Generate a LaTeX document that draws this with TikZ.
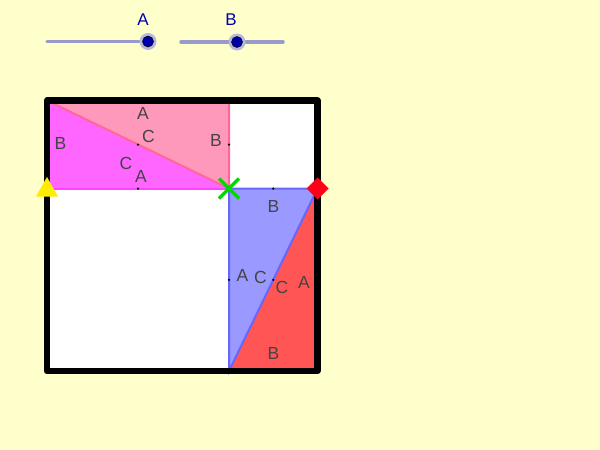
\documentclass[tikz,border=0pt]{standalone}
\usepackage{fontspec}
\setmainfont{Liberation Sans}
\definecolor{bg}{HTML}{FFFFCC}
\definecolor{pinkF}{HTML}{FF99BB}
\definecolor{pinkE}{HTML}{FF6699}
\definecolor{magF}{HTML}{FF66FF}
\definecolor{magE}{HTML}{FF44FF}
\definecolor{bluF}{HTML}{9999FF}
\definecolor{bluE}{HTML}{6666FF}
\definecolor{redF}{HTML}{FF5555}
\definecolor{lbl}{HTML}{444444}
\definecolor{slider}{HTML}{9999CC}
\definecolor{knob}{HTML}{0000AA}
\definecolor{slbl}{HTML}{0000AA}
\tikzset{
  lab/.style={font=\fontsize{17.5}{19}\selectfont, text=lbl, inner sep=0pt},
  slab/.style={font=\fontsize{17}{19}\selectfont, text=slbl, inner sep=0pt},
  dotp/.style={circle, fill=black, inner sep=0pt, minimum size=2.5pt},
}
\begin{document}
\begin{tikzpicture}[x=1pt,y=-1pt]
\fill[bg] (0,0) rectangle (600,450);
\useasboundingbox (0,0) rectangle (600,450);
% sliders
\draw[slider, line width=3.5pt, line cap=round] (47,41.5) -- (148,41.5);
\draw[slider, line width=3.5pt, line cap=round] (181,42) -- (283,42);
\node[slab] (la) at (143,20) {A};
\node[slab] (lb) at (231,20) {B};
\fill[slider!70] (148,41.5) circle (8.5);
\fill[knob, draw=black, line width=0.5pt] (148,41.5) circle (5.5);
\fill[slider!70] (237,42) circle (8.5);
\fill[knob, draw=black, line width=0.5pt] (237,42) circle (5.5);
% square inner
\fill[white] (47,100.5) rectangle (317.5,371);
% coordinates
\coordinate (TL) at (47,100.5);
\coordinate (TM) at (229,100.5);
\coordinate (ML) at (47,188.5);
\coordinate (MM) at (229,188.5);
\coordinate (MR) at (317.5,188.5);
\coordinate (BM) at (229,371);
\coordinate (BR) at (317.5,371);
% top-left triangles
\fill[pinkF] (TL) -- (TM) -- (MM) -- cycle;
\fill[magF] (TL) -- (ML) -- (MM) -- cycle;
\draw[magE, line width=2pt] (ML) -- (MM);
\draw[pinkE, line width=2pt] (TL) -- (MM) (TM) -- (MM);
% bottom-right triangles
\fill[redF] (MR) -- (BR) -- (BM) -- cycle;
\fill[bluF] (MM) -- (MR) -- (BM) -- cycle;
\draw[bluE, line width=2pt] (MM) -- (MR) -- (BM) -- cycle;
% border
\draw[black, line width=6.5pt, line join=round] (47,100.5) rectangle (317.5,371);
% midpoints
\node[dotp] (d1) at (138,144.5) {};
\node[dotp] (d2) at (138,188.5) {};
\node[dotp] (d3) at (229,144.5) {};
\node[dotp] (d4) at (273.25,188.5) {};
\node[dotp] (d5) at (229,279.75) {};
\node[dotp] (d6) at (273.25,279.75) {};
% labels
\node[lab] (a1) at (143,113.5) {A};
\node[lab] (c1) at (148.5,136) {C};
\node[lab] (b1) at (216,140) {B};
\node[lab] (b2) at (60.5,143.5) {B};
\node[lab] (c2) at (126,163) {C};
\node[lab] (a2) at (141,176.5) {A};
\node[lab] (b3) at (273.5,206.5) {B};
\node[lab] (a3) at (242.5,275) {A};
\node[lab] (c3) at (260.5,277) {C};
\node[lab] (c4) at (282,287) {C};
\node[lab] (a4) at (304,282) {A};
\node[lab] (b4) at (273.5,353.5) {B};
% markers
\fill[yellow!95!orange] (36,196.5) -- (58,196.5) -- (47,177) -- cycle;
\draw[green!85!black, line width=3.5pt] (219,178.5) -- (239,198.5) (219,198.5) -- (239,178.5);
\fill[red!90!magenta] (317.5,177.5) -- (328.5,188.5) -- (317.5,199.5) -- (306.5,188.5) -- cycle;
\end{tikzpicture}
\end{document}
